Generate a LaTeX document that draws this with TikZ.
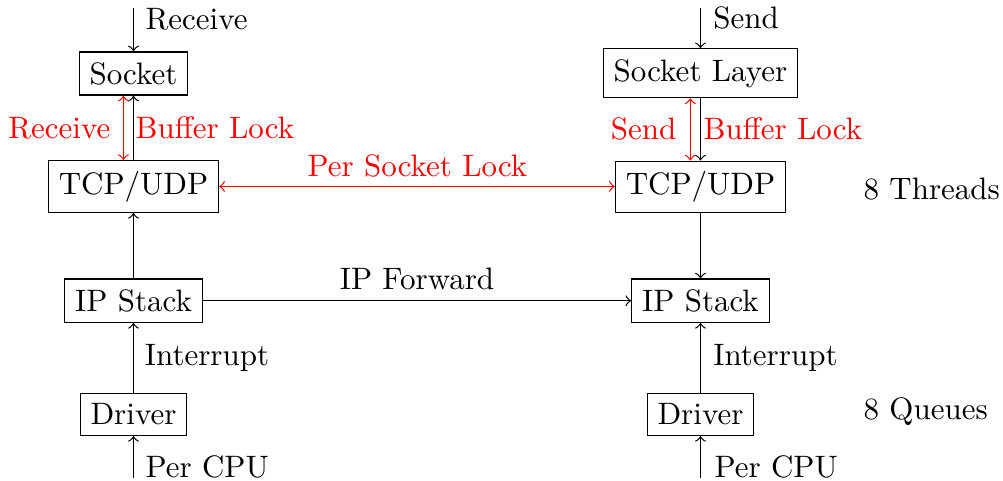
\documentclass[tikz,border=0pt]{standalone}
\begin{document}
\begin{tikzpicture}[x=0.32258pt,y=-0.32258pt,
  box/.style={draw, inner sep=3.333pt},
  lbl/.style={inner sep=0pt, anchor=base west},
  lbr/.style={inner sep=0pt, anchor=base east},
  lbc/.style={inner sep=0pt, anchor=base},
  flow/.style={->},
  lock/.style={red, <->}]
\useasboundingbox (0,0) rectangle (1003,481);

% receive path (left column)
\node[box] (sockL) at (133.5,73.5) {Socket};
\node[box] (tcpL)  at (133.5,186.5) {TCP/UDP};
\node[box] (ipL)   at (133.5,300.7) {IP Stack};
\node[box] (drvL)  at (133.5,414.3) {Driver};

% send path (right column)
\node[box] (sockR) at (700.5,73.3) {Socket Layer};
\node[box] (tcpR)  at (700.5,187) {TCP/UDP};
\node[box] (ipR)   at (700.5,300.7) {IP Stack};
\node[box] (drvR)  at (700.5,414.3) {Driver};

% free ends of the entry arrows
\coordinate (inL)  at (133.5,8);
\coordinate (inR)  at (700.5,8);
\coordinate (cpuL) at (133.5,478);
\coordinate (cpuR) at (700.5,478);

% data flow
\draw[flow] (inL) -- (sockL.north);
\draw[flow] (tcpL.north) -- (sockL.south);
\draw[flow] (ipL.north) -- (tcpL.south);
\draw[flow] (drvL.north) -- (ipL.south);
\draw[flow] (cpuL) -- (drvL.south);

\draw[flow] (inR) -- (sockR.north);
\draw[flow] (sockR.south) -- (tcpR.north);
\draw[flow] (tcpR.south) -- (ipR.north);
\draw[flow] (drvR.north) -- (ipR.south);
\draw[flow] (cpuR) -- (drvR.south);

\draw[flow] (ipL.east) -- (ipR.west);

% locks
\draw[lock] ([xshift=-3.25pt]sockL.south) -- ([xshift=-3.25pt]sockL.south |- tcpL.north);
\draw[lock] ([xshift=-3.3pt]sockR.south) -- ([xshift=-3.3pt]sockR.south |- tcpR.north);
\draw[lock] (tcpL.east) -- (tcpL.east -| tcpR.west);

% labels
\node[lbl] (lRecv) at (145,30) {Receive};
\node[lbl] (lSend) at (712.7,29) {Send};
\node[lbr, red] (lRecvBuf) at (111,139) {Receive};
\node[lbl, red] (lBufL) at (135,139) {Buffer Lock};
\node[lbr, red] (lSendBuf) at (677,140) {Send};
\node[lbl, red] (lBufR) at (703,140) {Buffer Lock};
\node[lbc, red] (lSock) at (417.5,176.7) {Per Socket Lock};
\node[lbc] (lFwd) at (417,290) {IP Forward};
\node[lbl] (lIntL) at (144.3,366) {Interrupt};
\node[lbl] (lIntR) at (712.7,366) {Interrupt};
\node[lbl] (lCpuL) at (145,478) {Per CPU};
\node[lbl] (lCpuR) at (714,478) {Per CPU};
\node[lbl] (lThr) at (863,199.3) {8 Threads};
\node[lbl] (lQue) at (863,420) {8 Queues};
\end{tikzpicture}
\end{document}
